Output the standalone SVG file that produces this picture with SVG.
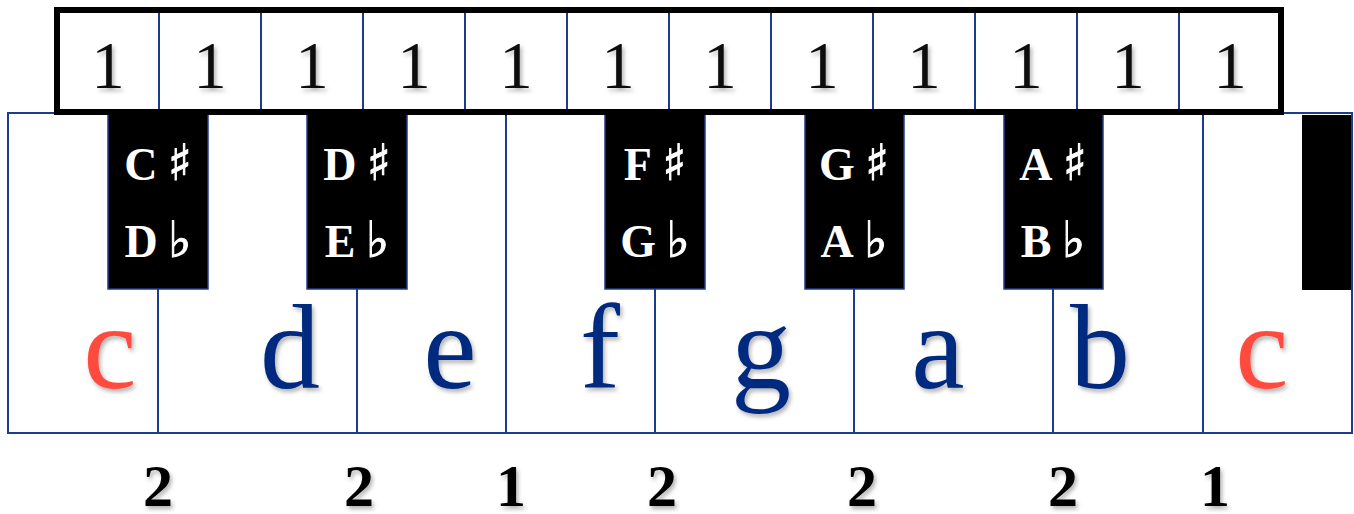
<svg xmlns="http://www.w3.org/2000/svg" width="1354" height="514" viewBox="0 0 1354 514">
  <defs>
    <filter id="shadow" x="-20%" y="-20%" width="150%" height="150%">
      <feDropShadow dx="2" dy="3" stdDeviation="2" flood-color="#000" flood-opacity="0.3"/>
    </filter>
  </defs>
  <style>
    .edge { stroke: #1c3c8c; stroke-width: 2; fill: none; }
    .black-key { fill: #000; stroke: #1c3c8c; stroke-width: 1.5; }
    .cell-num { font-family: "Liberation Serif", "DejaVu Serif", serif; font-size: 67px; fill: #111; text-anchor: middle; filter: url(#shadow); }
    .key-name { font-family: "Liberation Serif", "DejaVu Serif", serif; font-weight: bold; font-size: 46px; fill: #fff; text-anchor: middle; }
    .acc { font-family: "DejaVu Sans", "Noto Sans", sans-serif; font-weight: bold; font-size: 50px; stroke: #fff; stroke-width: 1; }
    .note { font-family: "Liberation Serif", "DejaVu Serif", serif; font-size: 120px; fill: #002b80; text-anchor: middle; filter: url(#shadow); }
    .note.tonic { fill: #ff4b3e; }
    .step { font-family: "Liberation Serif", "DejaVu Serif", serif; font-weight: bold; font-size: 60px; fill: #000; text-anchor: middle; filter: url(#shadow); }
  </style>

  <!-- white keys -->
  <g id="keyboard">
    <rect x="8" y="113" width="1344" height="320" fill="#fff" class="edge"/>
    <line class="edge" x1="506" y1="113" x2="506" y2="433"/>
    <line class="edge" x1="1203" y1="113" x2="1203" y2="433"/>
    <line class="edge" x1="158" y1="289" x2="158" y2="433"/>
    <line class="edge" x1="357" y1="289" x2="357" y2="433"/>
    <line class="edge" x1="655" y1="289" x2="655" y2="433"/>
    <line class="edge" x1="854" y1="289" x2="854" y2="433"/>
    <line class="edge" x1="1053" y1="289" x2="1053" y2="433"/>
  </g>

  <!-- black keys -->
  <g id="key-cs">
    <rect class="black-key" x="108" y="114" width="100" height="175"/>
    <text class="key-name" x="158" y="180">C<tspan class="acc" dx="10">♯</tspan></text>
    <text class="key-name" x="158" y="257">D<tspan class="acc" dx="10">♭</tspan></text>
  </g>
  <g id="key-ds">
    <rect class="black-key" x="307" y="114" width="100" height="175"/>
    <text class="key-name" x="357" y="180">D<tspan class="acc" dx="10">♯</tspan></text>
    <text class="key-name" x="357" y="257">E<tspan class="acc" dx="10">♭</tspan></text>
  </g>
  <g id="key-fs">
    <rect class="black-key" x="605" y="114" width="100" height="175"/>
    <text class="key-name" x="655" y="180">F<tspan class="acc" dx="10">♯</tspan></text>
    <text class="key-name" x="655" y="257">G<tspan class="acc" dx="10">♭</tspan></text>
  </g>
  <g id="key-gs">
    <rect class="black-key" x="805" y="114" width="99" height="175"/>
    <text class="key-name" x="854" y="180">G<tspan class="acc" dx="10">♯</tspan></text>
    <text class="key-name" x="854" y="257">A<tspan class="acc" dx="10">♭</tspan></text>
  </g>
  <g id="key-as">
    <rect class="black-key" x="1004" y="114" width="99" height="175"/>
    <text class="key-name" x="1053" y="180">A<tspan class="acc" dx="10">♯</tspan></text>
    <text class="key-name" x="1053" y="257">B<tspan class="acc" dx="10">♭</tspan></text>
  </g>
  <g id="key-cs2">
    <rect x="1302" y="115" width="49" height="175" fill="#000"/>
  </g>

  <!-- white key note names -->
  <g id="note-names">
    <text class="note tonic" x="110" y="388">c</text>
    <text class="note" x="290" y="388">d</text>
    <text class="note" x="450" y="388">e</text>
    <text class="note" x="600" y="388">f</text>
    <text class="note" x="761" y="388">g</text>
    <text class="note" x="938" y="388">a</text>
    <text class="note" x="1100" y="388">b</text>
    <text class="note tonic" x="1262" y="388">c</text>
  </g>

  <!-- semitone strip -->
  <g id="semitones">
    <rect x="57" y="10" width="1224" height="102" fill="#fff"/>
    <g class="edge">
      <line x1="159" y1="10" x2="159" y2="112"/>
      <line x1="261" y1="10" x2="261" y2="112"/>
      <line x1="363" y1="10" x2="363" y2="112"/>
      <line x1="465" y1="10" x2="465" y2="112"/>
      <line x1="567" y1="10" x2="567" y2="112"/>
      <line x1="669" y1="10" x2="669" y2="112"/>
      <line x1="771" y1="10" x2="771" y2="112"/>
      <line x1="873" y1="10" x2="873" y2="112"/>
      <line x1="975" y1="10" x2="975" y2="112"/>
      <line x1="1077" y1="10" x2="1077" y2="112"/>
      <line x1="1179" y1="10" x2="1179" y2="112"/>
    </g>
    <rect x="57" y="10" width="1224" height="102" fill="none" stroke="#000" stroke-width="6"/>
    <text class="cell-num" x="108" y="88">1</text>
    <text class="cell-num" x="210" y="88">1</text>
    <text class="cell-num" x="312" y="88">1</text>
    <text class="cell-num" x="414" y="88">1</text>
    <text class="cell-num" x="516" y="88">1</text>
    <text class="cell-num" x="618" y="88">1</text>
    <text class="cell-num" x="720" y="88">1</text>
    <text class="cell-num" x="822" y="88">1</text>
    <text class="cell-num" x="924" y="88">1</text>
    <text class="cell-num" x="1026" y="88">1</text>
    <text class="cell-num" x="1128" y="88">1</text>
    <text class="cell-num" x="1230" y="88">1</text>
  </g>

  <!-- whole/half step counts -->
  <g id="steps">
    <text class="step" x="158" y="506">2</text>
    <text class="step" x="359" y="506">2</text>
    <text class="step" x="511" y="506">1</text>
    <text class="step" x="662" y="506">2</text>
    <text class="step" x="862" y="506">2</text>
    <text class="step" x="1063" y="506">2</text>
    <text class="step" x="1215" y="506">1</text>
  </g>
</svg>
